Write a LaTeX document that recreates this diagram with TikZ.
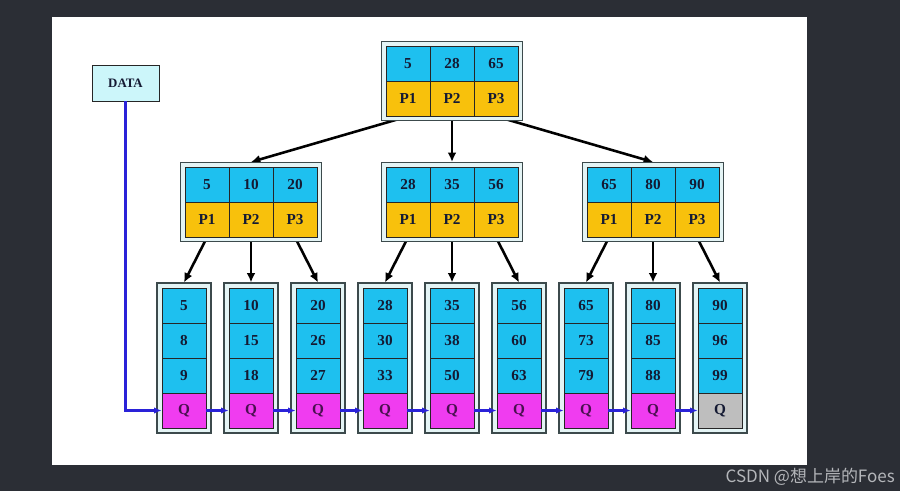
\documentclass[tikz,border=0pt]{standalone}
\usepackage{fontspec}
\setmainfont{Liberation Serif}
\newfontfamily\cjkfont{Noto Sans CJK SC}
\usepackage{xcolor}
\usepackage{tikz}
\usetikzlibrary{arrows, arrows.meta, positioning, backgrounds}
\definecolor{Backdrop}{HTML}{2B2E35}
\definecolor{KeyCyan}{HTML}{1EC0EF}
\definecolor{PtrOrange}{HTML}{F8C10C}
\definecolor{NextPink}{HTML}{F03CF0}
\definecolor{NilGray}{HTML}{BEBEBE}
\definecolor{FrameFill}{HTML}{E4F4F5}
\definecolor{FrameLine}{HTML}{3C4A4C}
\definecolor{DataFill}{HTML}{CCF6FA}
\definecolor{CellText}{HTML}{141A33}
\definecolor{NextText}{HTML}{4A1050}
\definecolor{LinkBlue}{HTML}{2A22D8}
\definecolor{MarkGray}{HTML}{B4B6BA}
\pgfdeclarelayer{paper}
\pgfdeclarelayer{links}
\pgfsetlayers{paper,links,main}
\tikzset{
  >=latex,  % frecce di default
  % caselle dei nodi
  cell/.style={draw=black!85,line width=0.6pt,minimum width=1.32cm,minimum height=1.05cm,
    inner sep=0pt,text=CellText,font=\fontsize{13}{15}\selectfont\bfseries},
  cell key/.style={cell,fill=KeyCyan},
  cell ptr/.style={cell,fill=PtrOrange},
  cell next/.style={cell,fill=NextPink,text=NextText},
  cell nil/.style={cell,fill=NilGray},
  % cornici
  box/.style={draw=FrameLine,fill=FrameFill,line width=0.9pt,inner sep=0pt},
  box inner/.style={box,minimum width=4.23cm,minimum height=2.37cm},
  box leaf/.style={box,minimum width=1.62cm,minimum height=4.5cm},
  data box/.style={draw=black!85,fill=DataFill,line width=0.8pt,minimum width=2.01cm,
    minimum height=1.08cm,text=CellText,font=\fontsize{11}{13}\selectfont\bfseries},
  % connessioni
  child/.style={-{Latex[length=8pt,width=7.5pt]},line width=2.2pt,black},
  leaf link/.style={-{Latex[length=6.5pt,width=5.5pt]},line width=2pt,LinkBlue}
}

\begin{document}
\begin{tikzpicture}[x=0.03cm,y=-0.03cm]
  \useasboundingbox (0,0) rectangle (900,491);
  \begin{pgfonlayer}{paper}
    \fill[Backdrop](0,0) rectangle (900,491);
    \fill[white](52,17) rectangle (807,465);
  \end{pgfonlayer}
  % radice e livello due
  \foreach \nm/\cx/\cy/\ka/\kb/\kc in {root/452/81/5/28/65, ia/251/202/5/10/20,
      ib/452/202/28/35/56, ic/653/202/65/80/90}{
    \node[box inner] (\nm) at (\cx,\cy) {};
    \node[cell key] (\nm-k1) at ({\cx-44},{\cy-17.5}) {\ka};
    \node[cell key] (\nm-k2) at (\cx,{\cy-17.5}) {\kb};
    \node[cell key] (\nm-k3) at ({\cx+44},{\cy-17.5}) {\kc};
    \node[cell ptr] (\nm-p1) at ({\cx-44},{\cy+17.5}) {P1};
    \node[cell ptr] (\nm-p2) at (\cx,{\cy+17.5}) {P2};
    \node[cell ptr] (\nm-p3) at ({\cx+44},{\cy+17.5}) {P3};
  }
  % foglie
  \foreach \a/\b/\c/\s [count=\i] in {5/8/9/next, 10/15/18/next, 20/26/27/next,
      28/30/33/next, 35/38/50/next, 56/60/63/next, 65/73/79/next, 80/85/88/next, 90/96/99/nil}{
    \node[box leaf] (leaf\i) at ({117+67*\i},358) {};
    \node[cell key] (leaf\i-a) at ({117+67*\i},305.5) {\a};
    \node[cell key] (leaf\i-b) at ({117+67*\i},340.5) {\b};
    \node[cell key] (leaf\i-c) at ({117+67*\i},375.5) {\c};
    \node[cell \s] (q\i) at ({117+67*\i},410.5) {Q};
  }
  \node[data box] (data) at (125.5,83) {DATA};
  % puntatori ai figli
  \begin{pgfonlayer}{links}
    \draw[child](root-p1.south)--(ia.north);
    \draw[child](root-p2.south)--(ib.north);
    \draw[child](root-p3.south)--(ic.north);
    \foreach \p/\l in {ia-p1/1, ia-p2/2, ia-p3/3, ib-p1/4, ib-p2/5, ib-p3/6,
        ic-p1/7, ic-p2/8, ic-p3/9}
      \draw[child](\p.south)--(leaf\l.north);
  \end{pgfonlayer}
  % catena delle foglie
  \draw[leaf link](data.south) |- (q1.west);
  \foreach \i [evaluate=\i as \j using int(\i+1)] in {1,...,8}
    \draw[leaf link](q\i.east)--(q\j.west);
  \node[font=\cjkfont\fontsize{14.5}{17}\selectfont,text=MarkGray,anchor=base east,
    inner sep=0pt] (mark) at (895,482) {CSDN @想上岸的Foes};
\end{tikzpicture}
\end{document}
